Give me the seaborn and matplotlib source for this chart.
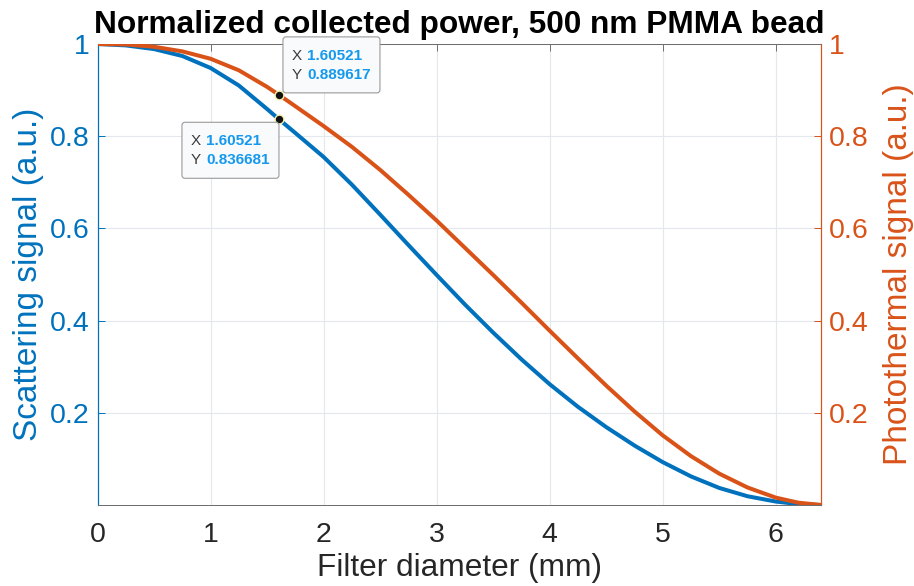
import matplotlib
matplotlib.use("Agg")
import matplotlib.pyplot as plt
from matplotlib.patches import FancyBboxPatch
import seaborn as sns
import pandas as pd

# ---------------- data ----------------
diameter_mm = [0.0, 0.25, 0.5, 0.75, 1.0, 1.25, 1.5, 1.60521, 1.75, 2.0, 2.25, 2.5,
               2.75, 3.0, 3.25, 3.5, 3.75, 4.0, 4.25, 4.5, 4.75, 5.0, 5.25, 5.5,
               5.75, 6.0, 6.2, 6.4]
scattering = [1.000, 0.997, 0.989, 0.974, 0.948, 0.910, 0.859, 0.836681, 0.807, 0.755,
              0.695, 0.630, 0.564, 0.499, 0.435, 0.374, 0.316, 0.262, 0.213, 0.169,
              0.129, 0.093, 0.062, 0.037, 0.019, 0.0075, 0.002, 0.000]
photothermal = [1.000, 0.999, 0.994, 0.984, 0.968, 0.943, 0.907, 0.889617, 0.865, 0.822,
                0.777, 0.727, 0.673, 0.617, 0.558, 0.499, 0.439, 0.378, 0.318, 0.259,
                0.203, 0.151, 0.106, 0.068, 0.038, 0.016, 0.005, 0.000]
tip_index = 7
x_ticks = [0, 1, 2, 3, 4, 5, 6]
y_ticks = [0.2, 0.4, 0.6, 0.8, 1.0]
y_ticklabels = ["0.2", "0.4", "0.6", "0.8", "1"]

title = "Normalized collected power, 500 nm PMMA bead"
xlabel = "Filter diameter (mm)"
ylabel_left = "Scattering signal (a.u.)"
ylabel_right = "Photothermal signal (a.u.)"

BLUE = "#0072BD"
ORANGE = "#D95319"
TIPBLUE = "#1499EE"
GRID = "#e4e7eb"
AXGRAY = "#6e6e6e"

sns.set_theme(style="white")
plt.rcParams["font.family"] = ["Liberation Sans", "DejaVu Sans"]

df = pd.DataFrame({"d": diameter_mm, "s": scattering, "p": photothermal})

W, H = 914, 586
fig = plt.figure(figsize=(W / 100, H / 100), dpi=100)
L, R, T, B = 97.5, 821, 44, 505
ax = fig.add_axes([L / W, 1 - B / H, (R - L) / W, (B - T) / H])
ax2 = ax.twinx()

sns.lineplot(data=df, x="d", y="s", ax=ax, color=BLUE, linewidth=2.9, zorder=3)
sns.lineplot(data=df, x="d", y="p", ax=ax2, color=ORANGE, linewidth=2.9, zorder=3)

tip = df.iloc[[tip_index]]
sns.scatterplot(data=tip, x="d", y="s", ax=ax, color="#111111", edgecolor="#f3f0b0",
                s=40, linewidth=1.0, zorder=5)
sns.scatterplot(data=tip, x="d", y="p", ax=ax2, color="#111111", edgecolor="#f3f0b0",
                s=40, linewidth=1.0, zorder=5)

for a in (ax, ax2):
    a.set_xlim(0, 6.4)
    a.set_ylim(0, 1)
    a.set_xlabel("")
    a.set_ylabel("")

ax.set_xticks(x_ticks)
ax.set_xticklabels([str(t) for t in x_ticks])
ax.set_yticks(y_ticks)
ax.set_yticklabels(y_ticklabels)
ax2.set_yticks(y_ticks)
ax2.set_yticklabels(y_ticklabels)

ax.grid(True, color=GRID, linewidth=0.8)
ax.set_axisbelow(True)
ax2.grid(False)

ax.tick_params(axis="x", direction="in", length=5, width=0.7, color=AXGRAY,
               labelsize=20.5, labelcolor="#262626", pad=12, top=True)
ax.tick_params(axis="y", direction="in", length=5, width=0.7, color=BLUE,
               labelsize=20.5, labelcolor=BLUE, pad=6, left=True, right=False)
ax2.tick_params(axis="y", direction="in", length=5, width=0.7, color=ORANGE,
                labelsize=20.5, labelcolor=ORANGE, pad=6, right=True, left=False)

for a in (ax, ax2):
    a.spines["top"].set_color(AXGRAY)
    a.spines["bottom"].set_color(AXGRAY)
    a.spines["top"].set_linewidth(0.7)
    a.spines["bottom"].set_linewidth(0.7)
    a.spines["left"].set_color(BLUE)
    a.spines["right"].set_color(ORANGE)
    a.spines["left"].set_linewidth(0.8)
    a.spines["right"].set_linewidth(0.8)

ax.set_title(title, fontsize=22.8, fontweight="bold", color="black", pad=8)
ax.set_xlabel(xlabel, fontsize=22.8, color="#262626", labelpad=4)
ax.set_ylabel(ylabel_left, fontsize=24, color=BLUE, labelpad=4)
ax2.set_ylabel(ylabel_right, fontsize=24, color=ORANGE, labelpad=10, rotation=90)


def datatip(axis, xv, yv, anchor):
    px, py = axis.transData.transform((xv, yv))
    bw, bh = 97, 56
    if anchor == "above_right":
        x0, y0 = px + 4, py + 2
    else:
        x0, y0 = px - bw, py - 3 - bh
    box = FancyBboxPatch((x0, y0), bw, bh, boxstyle="round,pad=0,rounding_size=3",
                         facecolor="#f9fafc", edgecolor="#9a9a9a", linewidth=0.8,
                         transform=None, zorder=6)
    fig.add_artist(box)
    rows = [("X", f"{xv:.5f}".rstrip("0")), ("Y", f"{yv:g}")]
    for i, (k, v) in enumerate(rows):
        yy = y0 + bh - 19 - i * 19
        fig.text(x0 + 9, yy, k, transform=None, fontsize=11, color="#3a3a3a",
                 va="center", ha="left", zorder=7)
        fig.text(x0 + 24, yy, v, transform=None, fontsize=11, color=TIPBLUE,
                 fontweight="bold", va="center", ha="left", zorder=7)


datatip(ax2, diameter_mm[tip_index], photothermal[tip_index], "above_right")
datatip(ax, diameter_mm[tip_index], scattering[tip_index], "below_left")

fig.savefig("out.png", dpi=100)
